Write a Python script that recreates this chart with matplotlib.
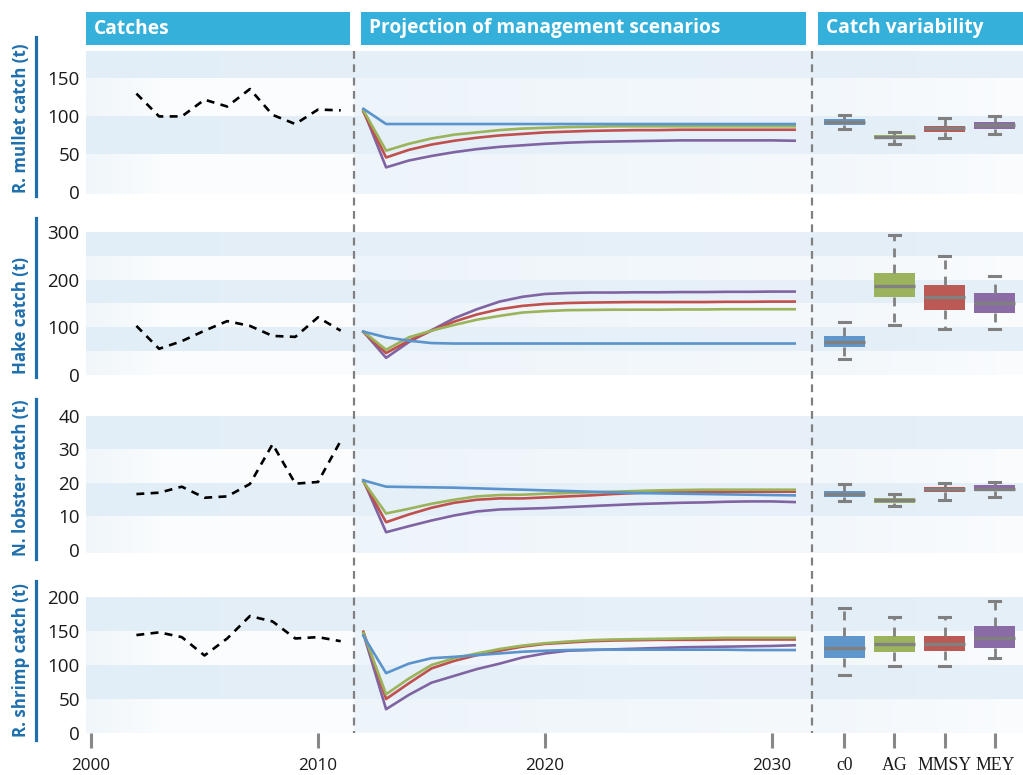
import matplotlib
matplotlib.use("Agg")
import matplotlib.pyplot as plt
import numpy as np
from matplotlib.lines import Line2D
from matplotlib.patches import Rectangle
from matplotlib.colors import to_rgb

plt.rcParams['font.family'] = ['Open Sans', 'DejaVu Sans']

W, H = 1023, 775

# ---------------- data ----------------
hist_years = list(range(2002, 2012))
proj_years = list(range(2012, 2032))
scenarios = ['c0', 'AG', 'MMSY', 'MEY']
year_ticks = [2000, 2010, 2020, 2030]

species = ['R. mullet catch (t)', 'Hake catch (t)',
           'N. lobster catch (t)', 'R. shrimp catch (t)']

# observed catches
mullet_hist = [130, 100, 100, 122, 113, 136, 102, 90, 109, 108]
hake_hist = [103, 55, 71, 93, 113, 103, 82, 80, 121, 93]
lobster_hist = [16.7, 17.1, 18.9, 15.6, 16.0, 19.7, 31.6, 19.8, 20.3, 32.6]
shrimp_hist = [144, 148, 141, 114, 139, 172, 164, 139, 141, 135]

# projected catches per scenario (c0, AG, MMSY, MEY)
mullet_c0 = [110, 90, 90, 90, 90, 90, 90, 90, 90, 90, 90, 90, 90, 90, 90, 90, 90, 90, 90, 90]
mullet_ag = [108, 55, 64, 71, 76, 79, 82, 84, 85, 86, 86.5, 87, 87, 87, 87, 87, 87, 87, 87, 87]
mullet_mmsy = [106, 46, 56, 63, 68, 72, 75, 77, 79, 80, 81, 81.5, 82, 82, 82.5, 82.5, 82.5, 82.5, 82.5, 82.5]
mullet_mey = [108, 33, 42, 48, 53, 57, 60, 62, 64, 65.5, 66.5, 67, 67.5, 68, 68.5, 68.5, 68.5, 68.5, 68.5, 68]

hake_c0 = [91, 79, 72, 67, 66, 66, 66, 66, 66, 66, 66, 66, 66, 66, 66, 66, 66, 66, 66, 66]
hake_ag = [91, 53, 79, 93, 105, 116, 124, 131, 134, 136, 136.5, 137, 137, 137, 137.5, 137.5, 138, 138, 138, 138]
hake_mmsy = [90, 46, 72, 93, 112, 127, 138, 145, 149, 151, 152, 152.5, 153, 153, 153, 153, 153.5, 153.5, 154, 154]
hake_mey = [91, 36, 69, 94, 119, 138, 154, 164, 170, 172, 173, 173, 173.5, 173.5, 174, 174, 174.5, 174.5, 175, 175]

lobster_c0 = [20.8, 18.9, 18.8, 18.7, 18.6, 18.4, 18.2, 18.0, 17.8, 17.6, 17.4, 17.2, 17.0, 16.9, 16.8, 16.7, 16.6, 16.5, 16.4, 16.3]
lobster_ag = [20.4, 10.9, 12.3, 13.8, 15.0, 16.0, 16.4, 16.5, 16.8, 17.0, 17.2, 17.4, 17.6, 17.8, 17.9, 18.0, 18.0, 18.0, 18.0, 18.0]
lobster_mmsy = [20.4, 8.3, 10.6, 12.6, 14.1, 15.0, 15.4, 15.4, 15.7, 16.0, 16.3, 16.7, 17.0, 17.3, 17.3, 17.4, 17.4, 17.4, 17.4, 17.4]
lobster_mey = [20.8, 5.3, 7.1, 8.8, 10.3, 11.5, 12.1, 12.3, 12.5, 12.8, 13.1, 13.4, 13.7, 13.9, 14.1, 14.2, 14.4, 14.5, 14.5, 14.3]

shrimp_c0 = [143, 88, 102, 110, 112, 114.5, 117, 119.5, 121, 122, 122.5, 122.5, 122.5, 122.5, 122.5, 122.5, 122.5, 122, 122, 122]
shrimp_ag = [147, 57, 80, 100, 110, 117, 123.5, 128.5, 132, 134.5, 136.5, 137.5, 138, 138.5, 139, 139.5, 140, 140, 140, 140]
shrimp_mmsy = [149, 50, 73, 95, 106, 114.5, 121, 127, 131, 133, 135, 136, 136.5, 137, 137, 137, 137.5, 137.5, 137.5, 137.5]
shrimp_mey = [146, 35, 56, 74, 84, 94, 102, 111, 117, 121, 122, 123, 124, 125, 126, 126.5, 127, 127.5, 128, 129]

# box statistics per scenario: (lower whisker, q1, median, q3, upper whisker)
mullet_box = [(83.5, 89, 93, 97, 101.5), (64, 70, 73, 75, 79),
              (72, 80, 85, 88, 97.5), (77, 83, 89, 92.5, 101)]
hake_box = [(34, 59, 69, 82, 112), (105, 164, 187, 215, 294),
            (97, 137, 164, 189, 250), (97, 131, 151, 172, 207)]
lobster_box = [(14.5, 15.8, 16.7, 17.6, 19.6), (13.2, 14.0, 14.9, 15.5, 16.8),
               (15.0, 17.3, 18.1, 18.8, 20.1), (15.9, 17.6, 18.3, 19.4, 20.4)]
shrimp_box = [(86, 110, 125, 143, 184), (98, 119, 131, 143, 171),
              (98, 120.5, 130.5, 142, 171), (110, 124.5, 140, 157, 194)]

hist_series = [mullet_hist, hake_hist, lobster_hist, shrimp_hist]
proj_series = [
    [mullet_c0, mullet_ag, mullet_mmsy, mullet_mey],
    [hake_c0, hake_ag, hake_mmsy, hake_mey],
    [lobster_c0, lobster_ag, lobster_mmsy, lobster_mey],
    [shrimp_c0, shrimp_ag, shrimp_mmsy, shrimp_mey],
]
box_series = [mullet_box, hake_box, lobster_box, shrimp_box]

y_ticks = [[0, 50, 100, 150], [0, 100, 200, 300],
           [0, 10, 20, 30, 40], [0, 50, 100, 150, 200]]
y_limits = [(-2, 186), (0, 300), (-0.9, 40), (0, 200)]
band_step = [50, 50, 10, 50]

# ---------------- style ----------------
line_colors = ['#5b93cc', '#9bb35a', '#c0504d', '#8064a2']
box_colors = ['#5f96cc', '#9bb35c', '#bb5a55', '#8b6ba5']
header_color = '#35b0da'
label_color = '#1f6fad'
grey = '#808080'

# horizontal shading of the background bands: (stop positions 0..1, colours)
shade_left = {'light': ([0, 0.3, 1], ['#f0f6fa', '#fbfdfe', '#fafcfe']),
              'dark': ([0, 1], ['#e2eef7', '#e4eff7'])}
shade_mid = {'light': ([0, 1], ['#edf4fa', '#f5f9fc']),
             'dark': ([0, 1], ['#e4eff8', '#e8f1f9'])}
shade_box = {'light': ([0, 1], ['#f2f7fb', '#fafcfe']),
             'dark': ([0, 1], ['#e3eef7', '#e6f0f8'])}

fig = plt.figure(figsize=(W / 100, H / 100), dpi=100)


def px_axes(x0, x1, y0, y1):
    return fig.add_axes([x0 / W, 1 - y1 / H, (x1 - x0) / W, (y1 - y0) / H])


def px_year(px):
    return 2000 + (px - 91) / 22.7


row_px = [(51, 194), (232, 375), (416, 553), (597, 733)]
label_line = [(37, 196), (218, 377), (399, 559), (581, 740)]
x_time = (86, 812)
x_box = (812, 1023)


def shade_strip(stops, colors, n=128):
    t = np.linspace(0, 1, n)
    rgb = np.array([to_rgb(c) for c in colors])
    strip = np.stack([np.interp(t, stops, rgb[:, i]) for i in range(3)], axis=-1)
    return strip[None, :, :]


def draw_bands(ax, ylim, step, segments):
    lo, hi = ylim
    starts = list(np.arange(0, hi, step))
    n = len(starts)
    for i, b in enumerate(starts):
        top = min(b + step, hi)
        bottom = lo if i == 0 else b
        kind = 'dark' if (n - 1 - i) % 2 == 0 else 'light'
        for (xa, xb, shade) in segments:
            stops, cols = shade[kind]
            ax.imshow(shade_strip(stops, cols), extent=(xa, xb, bottom, top),
                      aspect='auto', interpolation='bilinear', zorder=0)


for r in range(4):
    y0, y1 = row_px[r]
    ax = px_axes(x_time[0], x_time[1], y0, y1)
    axb = px_axes(x_box[0], x_box[1], y0, y1)

    xl = (px_year(x_time[0]), px_year(x_time[1]))
    xsplit = px_year(354)
    draw_bands(ax, y_limits[r], band_step[r],
               [(xl[0], xsplit, shade_left), (xsplit, xl[1], shade_mid)])
    draw_bands(axb, y_limits[r], band_step[r], [(0.36, 4.56, shade_box)])

    for a in (ax, axb):
        a.set_ylim(*y_limits[r])
        for s in a.spines.values():
            s.set_visible(False)
        a.set_facecolor('none')

    ax.set_xlim(*xl)
    ax.set_yticks(y_ticks[r])
    ax.tick_params(axis='y', length=0, pad=4.5, labelsize=13.5, labelcolor='#1a1a1a')
    axb.set_yticks([])

    # observed catches
    ax.plot(hist_years, hist_series[r], color='black', lw=1.9,
            linestyle=(0, (3.0, 2.4)), zorder=3)
    # projections
    for k in range(4):
        ax.plot(proj_years, proj_series[r][k], color=line_colors[k], lw=1.9,
                zorder=3 + (4 - k) * 0.1)

    # boxplots
    stats = []
    for k, (lo, q1, med, q3, hi) in enumerate(box_series[r]):
        stats.append(dict(whislo=lo, q1=q1, med=med, q3=q3, whishi=hi,
                          label=scenarios[k]))
    bp = axb.bxp(stats, positions=[1, 2, 3, 4], widths=0.82, patch_artist=True,
                 showfliers=False, capwidths=0.22,
                 boxprops=dict(linewidth=0),
                 medianprops=dict(color=grey, linewidth=2.4),
                 whiskerprops=dict(color=grey, linewidth=2.0, linestyle=(0, (3.2, 2.6))),
                 capprops=dict(color=grey, linewidth=2.2))
    for patch, c in zip(bp['boxes'], box_colors):
        patch.set_facecolor(c)
        patch.set_edgecolor(c)
    axb.set_xlim(0.36, 4.56)
    axb.set_ylim(*y_limits[r])

    if r == 3:
        ax.set_xticks(year_ticks)
        ax.tick_params(axis='x', direction='out', length=11, width=2.2,
                       color='#888888', pad=7, labelsize=12.3, labelcolor='#1a1a1a')
        axb.set_xticks([1, 2, 3, 4])
        axb.set_xticklabels(scenarios, family='Liberation Serif')
        axb.tick_params(axis='x', direction='out', length=11, width=2.2,
                        color='#888888', pad=6, labelsize=12.8, labelcolor='#1a1a1a')
    else:
        ax.set_xticks([])
        axb.set_xticks([])

    # species label with vertical rule
    ly0, ly1 = label_line[r]
    fig.add_artist(Line2D([36 / W, 36 / W], [1 - ly0 / H, 1 - ly1 / H],
                          color=label_color, lw=2.3))
    fig.text(21 / W, 1 - (ly1 - 3) / H, species[r], rotation=90,
             ha='center', va='bottom', color=label_color,
             fontsize=12.2, fontweight='bold')

# panel separators
for xp in (354, 812):
    fig.add_artist(Line2D([xp / W, xp / W], [1 - 51 / H, 1 - 733 / H],
                          color=grey, lw=1.6, linestyle=(0, (3.5, 2.5)), zorder=10))

# section headers
headers = [('Catches', 86, 350), ('Projection of management scenarios', 361, 806),
           ('Catch variability', 818, 1023)]
for text, hx0, hx1 in headers:
    fig.add_artist(Rectangle((hx0 / W, 1 - 45 / H), (hx1 - hx0) / W, 33 / H,
                             transform=fig.transFigure, color=header_color, lw=0))
    fig.text((hx0 + 8) / W, 1 - 28.5 / H, text, color='white', fontsize=13.8,
             fontweight='bold', ha='left', va='center')

fig.savefig('out.png', dpi=100)
